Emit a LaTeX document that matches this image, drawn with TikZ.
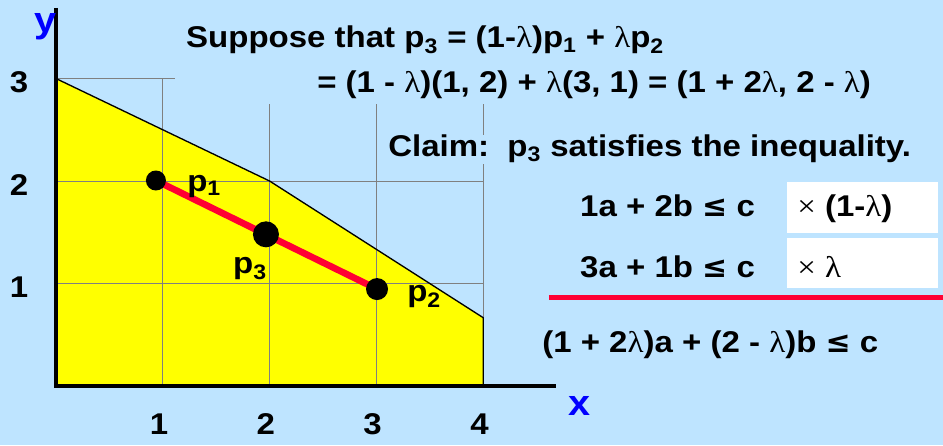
\documentclass[tikz,border=0pt]{standalone}
\usepackage{fontspec}
\setmainfont{Liberation Sans}[FakeStretch=1.1]
\newfontfamily\lamfont{Liberation Serif}[FakeStretch=1.1]
\newfontfamily\relfont{DejaVu Sans}
\usepackage{tikz}

\definecolor{slideblue}{RGB}{190,228,255}
\definecolor{feasyellow}{RGB}{255,255,0}
\definecolor{segred}{RGB}{255,0,51}
\definecolor{axisblue}{RGB}{0,0,255}
\newcommand{\lam}{{\lamfont\mdseries λ}}
\newcommand{\tms}{{\lamfont\mdseries ×}}
\newcommand{\leqs}{{\relfont ≤}}

\tikzset{
  txt/.style={font=\fontsize{22.5}{27}\selectfont\bfseries, inner sep=0pt},
  axlabel/.style={font=\fontsize{27}{30}\selectfont\bfseries, text=axisblue, inner sep=0pt},
  gridline/.style={gray, line width=0.75pt},
  dot/.style={circle, fill=black, inner sep=0pt},
  mulbox/.style={fill=white, minimum width=113pt, minimum height=38pt, anchor=north west, inner sep=0pt}
}

\begin{document}
\begin{tikzpicture}[x=80.1pt,y=76.875pt]
  \useasboundingbox (-0.524,-0.576) rectangle (8.305,3.766);
  \fill[slideblue] (-0.524,-0.576) rectangle (8.305,3.766);

  \fill[feasyellow] (0,0) -- (0,3) -- (2,2) -- (4,2/3) -- (4,0) -- cycle;
  \foreach \y in {1,2} \draw[gridline] (0,\y) -- (4,\y);
  \draw[gridline] (0,3) -- (1.11,3);
  \draw[gridline] (1,0) -- (1,3);
  \foreach \x in {2,3,4} \draw[gridline] (\x,0) -- (\x,2.75);
  \draw[line width=1pt] (0,3) -- (2,2) -- (4,2/3) -- (4,0);
  \draw[line width=3.5pt] (0,3.69) -- (0,0) -- (4.68,0);

  \foreach \i in {1,...,4} \node[txt] (xtick\i) at (\i-0.035,-0.371) {\i};
  \foreach \j in {1,2,3} \node[txt] (ytick\j) at (-0.346,\j-0.035) {\j};
  \node[axlabel] (xlab) at (4.906,-0.195) {x};
  \node[axlabel] (ylab) at (-0.10,3.51) {y};

  \coordinate (p1) at (0.936,2.005);
  \coordinate (p2) at (3.006,0.946);
  \coordinate (p3) at (1.966,1.480);
  \draw[segred, line width=5pt] (p1) -- (p2);
  \node[dot, minimum size=15pt] (dot1) at (p1) {};
  \node[dot, minimum size=16.5pt] (dot2) at (p2) {};
  \node[dot, minimum size=19.5pt] (dot3) at (p3) {};
  \node[txt, anchor=base west] (lab1) at (1.227,1.902) {p\textsubscript{1}};
  \node[txt, anchor=base west] (lab2) at (3.287,0.820) {p\textsubscript{2}};
  \node[txt, anchor=base west] (lab3) at (1.657,1.093) {p\textsubscript{3}};

  \node[txt, anchor=base west] (suppose) at (1.217,3.298)
    {Suppose that p\textsubscript{3} = (1-\lam)p\textsubscript{1} + \lam p\textsubscript{2}};
  \node[txt, anchor=base west] (expand) at (2.444,2.859)
    {= (1 - \lam)(1, 2) + \lam(3, 1) = (1 + 2\lam, 2 - \lam)};
  \node[txt, anchor=base west, fill=slideblue, inner xsep=2pt, inner ysep=4pt,
    text height=1.2em, text depth=.2em] (claim) at (3.084,2.244)
    {Claim:~~p\textsubscript{3} satisfies the inequality.};

  \node[txt, anchor=base west] (ineqA) at (4.906,1.649) {1a + 2b \leqs{} c};
  \node[txt, anchor=base west] (ineqB) at (4.906,1.063) {3a + 1b \leqs{} c};
  \node[mulbox] (boxA) at (6.845,1.990) {};
  \node[mulbox, minimum height=37.5pt] (boxB) at (6.845,1.444) {};
  \node[txt, anchor=base west] (mulA) at (6.938,1.649) {\tms\ (1-\lam)};
  \node[txt, anchor=base west] (mulB) at (6.938,1.063) {\tms\ \lam};
  \draw[segred, line width=3.75pt] (4.616,0.863) -- (8.305,0.863);
  \node[txt, anchor=base west] (sumineq) at (4.551,0.332) {(1 + 2\lam)a + (2 - \lam)b \leqs{} c};
\end{tikzpicture}
\end{document}
